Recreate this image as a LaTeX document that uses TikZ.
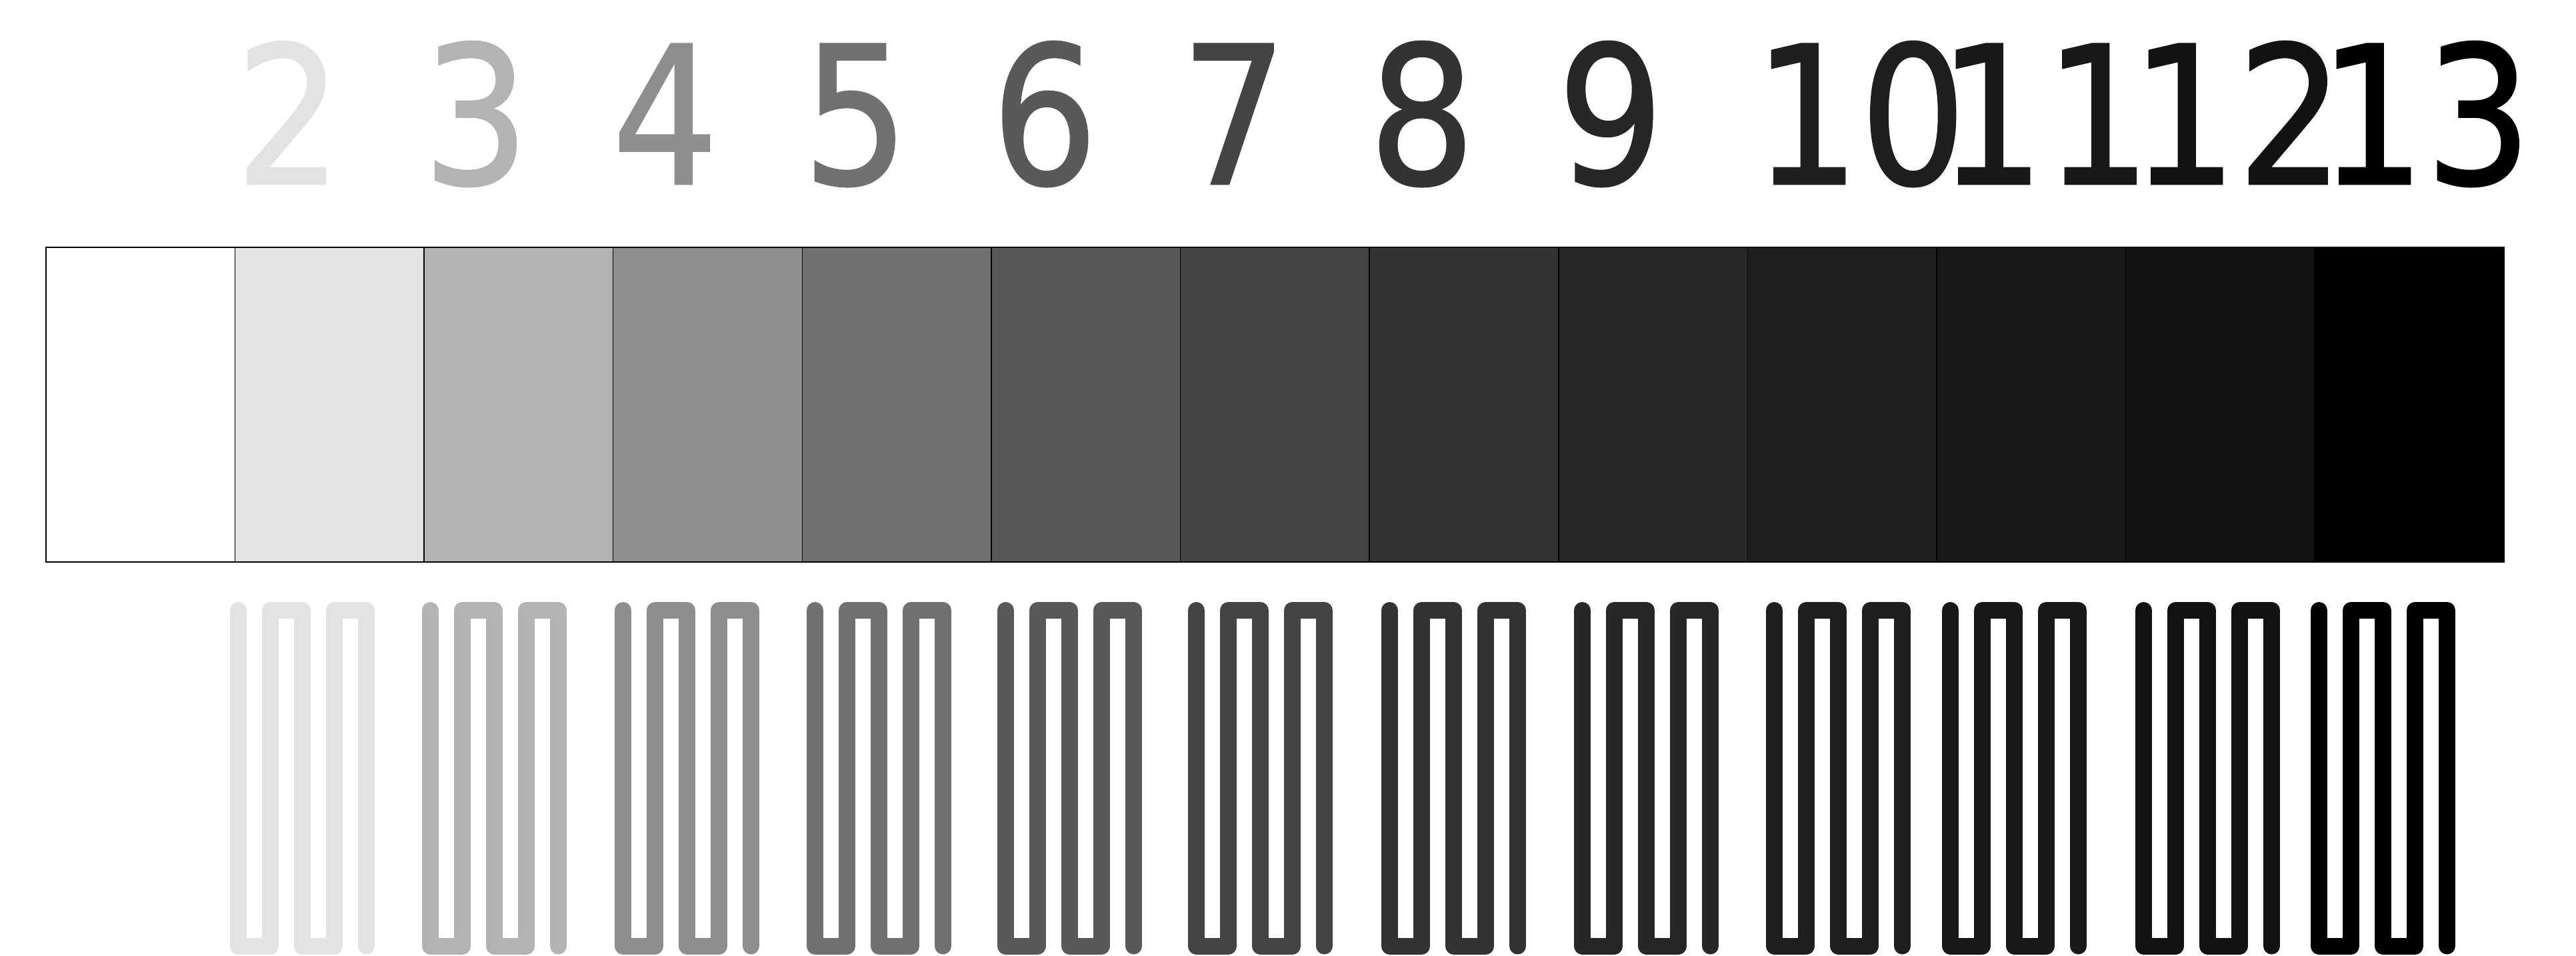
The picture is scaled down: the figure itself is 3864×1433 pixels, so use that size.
\documentclass[tikz,border=0pt]{standalone}
\usepackage{fontspec}
\newfontfamily\digitfont[FakeStretch=0.87,FakeBold=1]{DejaVu Sans}
\definecolor{g1}{HTML}{FFFFFF}
\definecolor{g2}{HTML}{E3E3E3}
\definecolor{g3}{HTML}{B3B3B3}
\definecolor{g4}{HTML}{8E8E8E}
\definecolor{g5}{HTML}{717171}
\definecolor{g6}{HTML}{595959}
\definecolor{g7}{HTML}{444444}
\definecolor{g8}{HTML}{333333}
\definecolor{g9}{HTML}{272727}
\definecolor{g10}{HTML}{1F1F1F}
\definecolor{g11}{HTML}{181818}
\definecolor{g12}{HTML}{121212}
\definecolor{g13}{HTML}{000000}
\tikzset{
  sqbox/.style={draw=black, line width=0.015cm, inner sep=0pt, minimum width=2.836cm, minimum height=4.72cm},
  numtxt/.style={inner sep=0pt, anchor=base, font=\digitfont\fontsize{82pt}{90pt}\selectfont},
  serp/.style={line width=0.25cm, line cap=round, line join=round}
}
\begin{document}
\begin{tikzpicture}[x=0.01cm,y=-0.01cm]
\useasboundingbox (0,0) rectangle (3864,1433);
% grey squares
\foreach \k in {1,...,13} {
  \pgfmathsetmacro\cx{69+(\k-0.5)*283.6}
  \node[sqbox, fill=g\k] (sq\k) at (\cx,607) {};
}
% numbers
\foreach \k/\nx in {2/433,3/714,4/998,5/1283.5,6/1567,7/1851,8/2133,9/2416,10/2790,11/3067,12/3356,13/3638} {
  \node[numtxt, text=g\k] (n\k) at (\nx,276) {\k};
}
% serpentine resistors
\foreach \k/\lx in {2/345,3/633,4/922,5/1210,6/1496,7/1782,8/2072,9/2361,10/2649,11/2913,12/3203,13/3466} {
  \draw[serp, draw=g\k] (\lx+12.5,915.5) -- ++(0,503.5) -- ++(48,0) -- ++(0,-503.5)
      -- ++(48,0) -- ++(0,503.5) -- ++(48,0) -- ++(0,-503.5) -- ++(48,0) -- ++(0,503.5);
}
\end{tikzpicture}
\end{document}
